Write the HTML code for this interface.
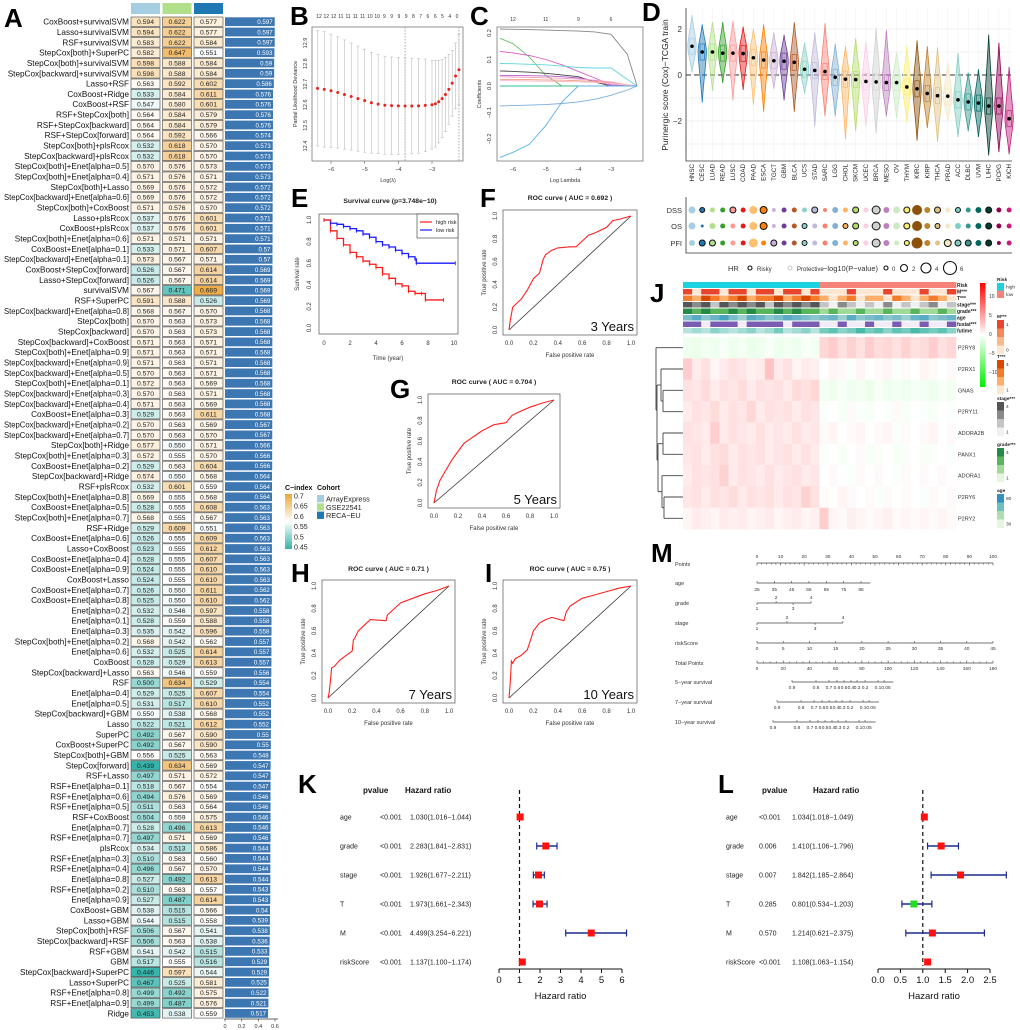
<!DOCTYPE html>
<html><head><meta charset="utf-8">
<style>
html,body{margin:0;padding:0;background:#fff;}
svg{display:block;font-family:"Liberation Sans",Arial,sans-serif;}
</style></head>
<body>
<svg id="fig" width="1020" height="1030" viewBox="0 0 1020 1030" xmlns="http://www.w3.org/2000/svg"></svg>
<script>
/* ================= DATA ================= */
// Panel A
const modelNames=["CoxBoost+survivalSVM","Lasso+survivalSVM","RSF+survivalSVM","StepCox[both]+SuperPC","StepCox[both]+survivalSVM","StepCox[backward]+survivalSVM","Lasso+RSF","CoxBoost+Ridge","CoxBoost+RSF","RSF+StepCox[both]","RSF+StepCox[backward]","RSF+StepCox[forward]","StepCox[both]+plsRcox","StepCox[backward]+plsRcox","StepCox[both]+Enet[alpha=0.5]","StepCox[both]+Enet[alpha=0.4]","StepCox[both]+Lasso","StepCox[backward]+Enet[alpha=0.6]","StepCox[both]+CoxBoost","Lasso+plsRcox","CoxBoost+plsRcox","StepCox[both]+Enet[alpha=0.6]","CoxBoost+Enet[alpha=0.1]","StepCox[backward]+Enet[alpha=0.1]","CoxBoost+StepCox[forward]","Lasso+StepCox[forward]","survivalSVM","RSF+SuperPC","StepCox[backward]+Enet[alpha=0.8]","StepCox[both]","StepCox[backward]","StepCox[backward]+CoxBoost","StepCox[both]+Enet[alpha=0.9]","StepCox[backward]+Enet[alpha=0.9]","StepCox[backward]+Enet[alpha=0.5]","StepCox[both]+Enet[alpha=0.1]","StepCox[backward]+Enet[alpha=0.3]","StepCox[backward]+Enet[alpha=0.4]","CoxBoost+Enet[alpha=0.3]","StepCox[backward]+Enet[alpha=0.2]","StepCox[backward]+Enet[alpha=0.7]","StepCox[both]+Ridge","StepCox[both]+Enet[alpha=0.3]","CoxBoost+Enet[alpha=0.2]","StepCox[backward]+Ridge","RSF+plsRcox","StepCox[both]+Enet[alpha=0.8]","CoxBoost+Enet[alpha=0.5]","StepCox[both]+Enet[alpha=0.7]","RSF+Ridge","CoxBoost+Enet[alpha=0.6]","Lasso+CoxBoost","CoxBoost+Enet[alpha=0.4]","CoxBoost+Enet[alpha=0.9]","CoxBoost+Lasso","CoxBoost+Enet[alpha=0.7]","CoxBoost+Enet[alpha=0.8]","Enet[alpha=0.2]","Enet[alpha=0.1]","Enet[alpha=0.3]","StepCox[both]+Enet[alpha=0.2]","Enet[alpha=0.6]","CoxBoost","StepCox[backward]+Lasso","RSF","Enet[alpha=0.4]","Enet[alpha=0.5]","StepCox[backward]+GBM","Lasso","SuperPC","CoxBoost+SuperPC","StepCox[both]+GBM","StepCox[forward]","RSF+Lasso","RSF+Enet[alpha=0.1]","RSF+Enet[alpha=0.6]","RSF+Enet[alpha=0.5]","RSF+CoxBoost","Enet[alpha=0.7]","RSF+Enet[alpha=0.7]","plsRcox","RSF+Enet[alpha=0.3]","RSF+Enet[alpha=0.4]","Enet[alpha=0.8]","RSF+Enet[alpha=0.2]","Enet[alpha=0.9]","CoxBoost+GBM","Lasso+GBM","StepCox[both]+RSF","StepCox[backward]+RSF","RSF+GBM","GBM","StepCox[backward]+SuperPC","Lasso+SuperPC","RSF+Enet[alpha=0.8]","RSF+Enet[alpha=0.9]","Ridge"];
const cArrayExpress=[0.594,0.594,0.583,0.582,0.598,0.598,0.563,0.533,0.547,0.564,0.564,0.564,0.532,0.532,0.570,0.571,0.569,0.569,0.571,0.537,0.537,0.571,0.533,0.573,0.526,0.526,0.567,0.591,0.568,0.570,0.570,0.571,0.571,0.571,0.570,0.572,0.570,0.571,0.529,0.570,0.570,0.577,0.572,0.529,0.574,0.532,0.569,0.528,0.568,0.529,0.526,0.523,0.528,0.524,0.524,0.526,0.525,0.532,0.528,0.535,0.568,0.532,0.528,0.563,0.500,0.529,0.531,0.550,0.522,0.492,0.492,0.556,0.439,0.497,0.518,0.494,0.511,0.504,0.528,0.497,0.534,0.510,0.496,0.527,0.510,0.527,0.538,0.544,0.506,0.506,0.541,0.517,0.446,0.467,0.499,0.499,0.453];
const cGSE22541=[0.622,0.622,0.622,0.647,0.588,0.588,0.592,0.584,0.580,0.584,0.584,0.592,0.618,0.618,0.576,0.576,0.576,0.576,0.576,0.576,0.576,0.571,0.571,0.567,0.567,0.567,0.471,0.588,0.567,0.563,0.563,0.563,0.563,0.563,0.563,0.563,0.563,0.563,0.563,0.563,0.563,0.550,0.555,0.563,0.550,0.601,0.555,0.555,0.555,0.609,0.555,0.555,0.555,0.555,0.555,0.550,0.550,0.546,0.559,0.542,0.542,0.525,0.529,0.546,0.634,0.525,0.517,0.538,0.521,0.567,0.567,0.525,0.634,0.571,0.567,0.576,0.563,0.559,0.496,0.571,0.513,0.563,0.567,0.492,0.563,0.487,0.515,0.515,0.567,0.563,0.542,0.555,0.597,0.525,0.492,0.487,0.538];
const cRECAEU=[0.577,0.577,0.584,0.551,0.584,0.584,0.602,0.611,0.601,0.579,0.579,0.566,0.570,0.570,0.573,0.571,0.572,0.572,0.570,0.601,0.601,0.571,0.607,0.571,0.614,0.614,0.669,0.526,0.570,0.573,0.573,0.571,0.571,0.571,0.571,0.569,0.571,0.569,0.611,0.569,0.570,0.571,0.570,0.604,0.568,0.559,0.568,0.608,0.567,0.551,0.609,0.612,0.607,0.610,0.610,0.611,0.610,0.597,0.588,0.596,0.562,0.614,0.613,0.559,0.529,0.607,0.610,0.568,0.612,0.590,0.590,0.563,0.569,0.572,0.554,0.569,0.564,0.575,0.613,0.569,0.586,0.560,0.570,0.613,0.557,0.614,0.566,0.558,0.541,0.538,0.515,0.516,0.544,0.581,0.575,0.576,0.559];
const cMean=[0.597,0.597,0.597,0.593,0.59,0.59,0.586,0.576,0.576,0.576,0.576,0.574,0.573,0.573,0.573,0.573,0.572,0.572,0.572,0.571,0.571,0.571,0.57,0.57,0.569,0.569,0.569,0.569,0.568,0.568,0.568,0.568,0.568,0.568,0.568,0.568,0.568,0.568,0.568,0.567,0.567,0.566,0.566,0.566,0.564,0.564,0.564,0.563,0.563,0.563,0.563,0.563,0.563,0.563,0.563,0.562,0.562,0.558,0.558,0.558,0.557,0.557,0.557,0.556,0.554,0.554,0.552,0.552,0.552,0.55,0.55,0.548,0.547,0.547,0.547,0.546,0.546,0.546,0.546,0.546,0.544,0.544,0.544,0.544,0.543,0.543,0.54,0.539,0.538,0.536,0.533,0.529,0.529,0.525,0.522,0.521,0.517];
const barTicks=[0,0.2,0.4,0.6];
const cindexLegendTicks=[0.7,0.65,0.6,0.55,0.5,0.45];
const cohortNames=["ArrayExpress","GSE22541","RECA−EU"];

// Panel B
const bLogLambda=[-6.4,-6.2,-6.0,-5.8,-5.6,-5.4,-5.2,-5.0,-4.8,-4.6,-4.4,-4.2,-4.0,-3.8,-3.6,-3.4,-3.2,-3.0,-2.9,-2.8,-2.7,-2.6,-2.5,-2.4,-2.3,-2.2];
const bDeviance=[12.68,12.675,12.668,12.66,12.65,12.64,12.63,12.62,12.61,12.603,12.598,12.596,12.595,12.594,12.594,12.595,12.597,12.60,12.605,12.615,12.63,12.65,12.675,12.705,12.74,12.77];
const bSE=[0.28,0.28,0.275,0.27,0.265,0.26,0.255,0.25,0.245,0.24,0.238,0.236,0.235,0.234,0.232,0.23,0.225,0.215,0.21,0.2,0.19,0.18,0.17,0.16,0.16,0.17];
const bTopCounts=["12","12","12","11","11","11","11","10","10","9","9","9","9","8","7","6","6","5","4","0"];
const bXTicks=[-6,-5,-4,-3];
const bYTicks=[12.4,12.5,12.6,12.7,12.8,12.9];
const bVLines=[-3.8,-2.2];

// Panel C
const cLambda=[-6.4,-6.0,-5.5,-5.0,-4.5,-4.0,-3.5,-3.0,-2.5,-2.2];
const coefGray=[0.215,0.214,0.213,0.211,0.209,0.207,0.204,0.195,0.12,0];
const coefGreen=[0.18,0.16,0.11,0.04,0,0,0,0,0,0];
const coefMagenta=[0.13,0.125,0.115,0.1,0.08,0.055,0.03,0.005,0,0];
const coefCyan=[0.085,0.084,0.082,0.08,0.075,0.07,0.068,0.068,0.025,0];
const coefDark=[0.057,0.055,0.052,0.048,0.042,0.035,0.015,0,0,0];
const coefViolet=[0.04,0.04,0.039,0.038,0.035,0.03,0.02,0.002,0,0];
const coefPink=[0.035,0.034,0.033,0.031,0.029,0.026,0.022,0.015,0.004,0];
const coefSalmon=[0.025,0.025,0.024,0.023,0.022,0.02,0.017,0.012,0.004,0];
const coefRose=[0.02,0.02,0.019,0.018,0.017,0.016,0.014,0.01,0.003,0];
const coefTeal=[0,0,0,0,0,0,0,0,0,0];
const coefBlue=[-0.075,-0.074,-0.072,-0.07,-0.066,-0.06,-0.05,-0.035,-0.015,0];
const coefLightBlue=[-0.27,-0.25,-0.22,-0.15,-0.06,0,0,0,0,0];
const cTopCounts=[["12",-6],["11",-5],["9",-4],["6",-3]];
const cXTicks=[-6,-5,-4,-3];
const cYTicks=[0.2,0.1,0,-0.1,-0.2];

// Panel D
const cancerTypes=["HNSC","CESC","LUAD","READ","LUSC","COAD","PAAD","ESCA","TGCT","GBM","BLCA","UCS","STAD","SARC","LGG","CHOL","SKCM","UCEC","BRCA","MESO","OV","THYM","KIRC","KIRP","THCA","PRAD","ACC","DLBC","UVM","LIHC","PCPG","KICH"];
const scoreMedian=[1.25,1.0,1.0,0.95,0.95,0.93,0.75,0.65,0.62,0.6,0.55,0.25,0.2,0.15,-0.1,-0.18,-0.2,-0.28,-0.3,-0.33,-0.33,-0.52,-0.6,-0.8,-0.9,-0.92,-1.08,-1.17,-1.22,-1.35,-1.35,-1.9];
const scoreMin=[0.1,-1.2,-0.7,-0.35,-1.1,-0.65,-1.3,-1.6,-0.6,-1.1,-1.6,-0.8,-2.25,-1.8,-1.8,-2.8,-2.45,-2.25,-2.55,-1.8,-1.9,-2.05,-2.85,-2.3,-2.9,-2.0,-2.7,-2.45,-2.7,-3.5,-3.35,-3.45];
const scoreMax=[2.6,2.2,2.3,2.3,2.35,2.1,2.0,2.2,1.85,1.75,2.3,1.4,1.85,2.25,1.35,1.25,1.6,1.45,2.05,1.95,1.0,1.25,1.5,1.25,1.2,0.55,0.95,0.1,0.25,1.75,1.4,0.35];
const cancerColors=["#a6cee3","#1f78b4","#b2df8a","#33a02c","#fb9a99","#e31a1c","#fdbf6f","#ff7f00","#cab2d6","#6a3d9a","#b15928","#8dd3c7","#bebada","#fb8072","#80b1d3","#fdb462","#b3de69","#fccde5","#d0d0d0","#bc80bd","#ccebc5","#ffed6f","#8c510a","#bf812d","#dfc27d","#f6e8c3","#80cdc1","#35978f","#01665e","#003c30","#8e0152","#c51b7d"];
const dYTicks=[2,0,-2];
const endpoints=["DSS","OS","PFI"];
const dssSize=[3.5,2.5,2.5,2.5,3,2.5,4,3.5,2,2.5,2.5,2.5,3,2,3,2.5,3,2.5,4,3,3.5,3,5,3,3,2.5,2.5,2.5,3,3,2.5,2.5];
const dssRing=[0,1,0,0,1,0,0,1,0,0,0,0,1,0,0,0,1,0,1,0,0,1,0,0,1,0,1,0,0,1,0,0];
const osSize=[3.5,1.5,3,2.5,2.5,2.5,4,3.5,2,2.5,2.5,2.5,2.5,2.5,3,2.5,3,2.5,4,3,3.5,3,5,3,2.5,2.5,3,2.5,3,3,2.5,2.5];
const osRing=[0,0,0,0,0,0,0,1,0,0,0,1,0,0,0,1,1,0,1,0,0,1,0,0,1,0,0,0,0,1,0,0];
const pfiSize=[3,3,3,2.5,2.5,2.5,4.5,2.5,3,2.5,2.5,2.5,2.5,2.5,3,2.5,2.5,2.5,4,3,2.5,2.5,5.5,3,2.5,3.5,3,3,3,3,2,2.5];
const pfiRing=[0,1,1,0,0,0,0,0,1,0,0,1,0,0,0,0,1,0,1,0,0,1,0,0,0,1,1,1,0,1,0,0];

// Panel E
const highTime=[0,0.5,1,1.5,2,2.5,3,3.5,4,4.5,5,5.5,6,6.5,7,7.5,7.8,9.2];
const highSurv=[1,0.9,0.83,0.77,0.7,0.66,0.62,0.59,0.56,0.5,0.46,0.41,0.39,0.34,0.32,0.32,0.26,0.26];
const lowTime=[0,0.5,1,1.5,2,2.5,3,3.5,4,4.5,5,5.5,6,6.5,7,7.1,10.1];
const lowSurv=[1,0.97,0.96,0.94,0.92,0.9,0.87,0.84,0.8,0.77,0.75,0.72,0.69,0.66,0.64,0.6,0.6];
const eXTicks=[0,2,4,6,8,10];
const eYTicks=[0,0.2,0.4,0.6,0.8,1.0];

// ROC panels
const roc3Fpr=[0,0.01,0.03,0.05,0.1,0.15,0.2,0.25,0.28,0.3,0.35,0.4,0.5,0.55,0.6,0.65,0.7,0.8,0.85,0.9,1];
const roc3Tpr=[0,0.08,0.2,0.22,0.27,0.35,0.45,0.5,0.62,0.66,0.7,0.72,0.73,0.73,0.78,0.83,0.85,0.9,0.96,0.97,1];
const roc5Fpr=[0,0.02,0.05,0.1,0.15,0.2,0.25,0.3,0.35,0.4,0.45,0.5,0.6,0.65,0.7,0.8,0.9,1];
const roc5Tpr=[0,0.12,0.22,0.32,0.42,0.5,0.58,0.62,0.66,0.7,0.73,0.76,0.78,0.85,0.88,0.93,0.97,1];
const roc7Fpr=[0,0.01,0.02,0.03,0.05,0.1,0.15,0.2,0.21,0.22,0.25,0.3,0.35,0.48,0.49,0.55,0.6,0.7,0.8,0.9,1];
const roc7Tpr=[0,0.05,0.15,0.27,0.28,0.34,0.38,0.42,0.52,0.53,0.6,0.65,0.7,0.69,0.74,0.8,0.85,0.89,0.93,0.96,1];
const roc10Fpr=[0,0.01,0.02,0.03,0.05,0.1,0.15,0.18,0.2,0.25,0.3,0.35,0.45,0.47,0.5,0.6,0.7,0.8,0.9,1];
const roc10Tpr=[0,0.13,0.33,0.31,0.35,0.38,0.43,0.53,0.6,0.67,0.7,0.72,0.69,0.77,0.82,0.89,0.92,0.95,0.98,1];
const rocAUC=["0.692","0.704","0.71","0.75"];
const rocYears=["3 Years","5 Years","7 Years","10 Years"];
const rocTicks=[0,0.2,0.4,0.6,0.8,1.0];

// Panel J
const geneNames=["P2RY8","P2RX1","GNAS","P2RY11","ADORA2B","PANX1","ADORA1","P2RY6","P2RY2"];
const exprP2RY8=[-.2,-.25,-.15,-.2,-.1,-.2,-.15,-.25,-.2,-.1,-.2,-.15,-.2,-.1,-.15,.4,.5,.3,.45,.3,.5,.35,.4,.3,.45,.3,.35,.5,.3,.4];
const exprP2RX1=[.5,.2,.3,.1,.2,.3,.25,.15,.2,.6,.2,.3,.1,.2,.15,0,.1,.05,-.05,.1,0,.05,.1,-.05,.05,0,.1,.05,0,.05];
const exprGNAS=[.3,.25,.35,.2,.3,.25,.35,.2,.3,.25,.3,.2,.35,.3,.4,-.15,-.2,-.1,-.2,-.15,-.25,-.1,-.2,-.15,-.2,-.1,-.15,-.2,-.1,-.15];
const exprP2RY11=[.2,.3,.25,.35,.2,.3,.25,.4,.2,.3,.25,.3,.2,.3,.25,-.05,0,-.1,.05,-.05,-.1,0,-.05,.05,-.1,0,-.05,-.1,0,-.05];
const exprADORA2B=[.3,.25,.2,.5,.2,.3,.25,.2,.3,.2,.25,.2,.3,.2,.25,.05,.1,0,.05,.1,0,.05,.1,-.05,.05,0,.05,.1,0,.05];
const exprPANX1=[.25,.3,.2,.3,.35,.2,.3,.25,.3,.2,.25,.3,.2,.3,.2,-.05,0,-.1,0,.05,-.1,-.05,0,-.1,-.05,0,-.1,-.05,0,-.05];
const exprADORA1=[.2,.3,.25,.3,.45,.2,.3,.25,.2,.3,.2,.25,.3,.2,.25,0,.05,0,-.05,.05,0,.05,0,-.05,.05,0,.05,0,.05,0];
const exprP2RY6=[.25,.3,.2,.3,.25,.35,.2,.3,.25,.3,.2,.3,.25,.45,.3,.05,0,.1,.05,0,.05,-.05,.05,0,.05,0,-.05,.05,0,.05];
const exprP2RY2=[.1,.2,.15,.1,.2,.15,.2,.1,.15,.2,.1,.15,.2,.1,.15,.5,.1,.05,.15,.1,.05,.1,.15,.05,.1,.05,.1,.05,.1,.05];
const annotRisk=[1,1,1,1,1,1,1,1,1,1,1,1,1,1,1,0,0,0,0,0,0,0,0,0,0,0,0,0,0,0];
const annotM=[1,0,1,1,0,1,1,0,1,1,0,1,1,0,1,0,0,0,1,0,0,0,1,0,0,0,1,0,0,1];
const annotT=[3,2,4,3,2,3,4,2,3,3,4,2,3,4,3,2,1,2,3,1,2,2,1,3,2,1,2,3,2,1];
const annotStage=[4,3,4,2,4,3,4,3,4,2,4,3,4,3,4,2,1,3,2,1,2,1,3,1,2,1,2,3,1,2];
const annotGrade=[4,3,4,3,3,4,3,4,3,3,4,3,4,3,3,2,3,2,2,3,2,2,3,2,2,3,2,2,3,2];
const annotAge=[60,70,55,65,75,60,50,70,65,55,60,70,65,60,55,60,65,50,70,55,60,65,55,60,50,65,70,55,60,65];
const annotFustat=[1,1,0,1,1,1,0,1,1,1,1,0,1,1,1,0,0,1,0,0,1,0,0,1,0,0,1,0,0,1];
const annotFutime=[2,3,2,4,3,2,3,4,2,3,5,2,3,4,2,5,6,4,5,7,5,6,4,6,5,7,6,5,6,4];
const annotNames=["Risk","M***","T***","stage***","grade***","age","fustat***","futime"];
const heatLegendTicks=[10,5,0,-5,-10];

// Panel M (nomogram)
const pointsLabels=[0,10,20,30,40,50,60,70,80,90,100];
const ageLabels=["25","35","45","55","65","75","85"];
const agePts=[0,7.35,14.7,22.0,29.4,36.7,44.1];
const gradeLabels=["1","2","3","4"];
const gradePts=[0,8.1,15.3,22.9];
const stageLabels=["1","2","3","4"];
const stagePts=[0,12.7,24.6,36.4];
const riskLabels=[0,5,10,15,20,25,30,35,40,45];
const totalLabels=[0,20,40,60,80,100,120,140,160,180];
const survLabels=["0.9","0.8","0.7","0.6","0.5","0.4","0.3","0.2","0.1","0.05"];
const surv5Total=[26.7,45,54.9,61,66.4,71.7,76.3,82.4,92.3,96.9];
const surv7Total=[15.3,33.6,43.5,49.6,55,60.3,64.9,71,80.9,85.5];
const surv10Total=[12.2,30.5,40.4,46.5,51.9,57.2,61.8,67.9,77.8,82.4];

// Panels K / L
const coxVars=["age","grade","stage","T","M","riskScore"];
const kPval=["<0.001","<0.001","<0.001","<0.001","<0.001","<0.001"];
const kHR=[1.030,2.283,1.926,1.973,4.499,1.137];
const kLow=[1.016,1.841,1.677,1.661,3.254,1.100];
const kHigh=[1.044,2.831,2.211,2.343,6.221,1.174];
const kTicks=[0,1,2,3,4,5,6];
const lPval=["<0.001","0.006","0.007","0.285","0.570","<0.001"];
const lHR=[1.034,1.410,1.842,0.801,1.214,1.108];
const lLow=[1.018,1.106,1.185,0.534,0.621,1.063];
const lHigh=[1.049,1.796,2.864,1.203,2.375,1.154];
const lTicks=[0,0.5,1,1.5,2,2.5];

/* ================= HELPERS ================= */
const NS='http://www.w3.org/2000/svg';
const svg=document.getElementById('fig');
function mk(tag,attrs,parent){const e=document.createElementNS(NS,tag);for(const k in attrs)e.setAttribute(k,attrs[k]);(parent||svg).appendChild(e);return e;}
function tx(x,y,s,size,opts,parent){const e=mk('text',Object.assign({x:x,y:y,'font-size':size,fill:'#111'},opts||{}),parent);e.textContent=s;return e;}
function lin(d0,d1,r0,r1){return v=>r0+(v-d0)/(d1-d0)*(r1-r0);}
function grp(){return mk('g',{});}
function fmt(v){return String(v);}

/* ================= PANEL LETTERS ================= */
const panelLetters=["A","B","C","D","E","F","G","H","I","J","K","L","M"];
const letterX=[4,290,470,642,291,480,390,291,485,650,298,718,651];
const letterY=[27,25,25,21,207,207,398,582,582,302,793,793,562];
panelLetters.forEach((L,i)=>{
  const t=tx(letterX[i],letterY[i],L,26,{'font-weight':'bold',fill:'#000'});
  
  
});

/* ================= PANEL A ================= */
(function(){
  const g=grp();
  
  
  const rowY=i=>21.7+i*10.33;
  const colX=[131,162.5,194];
  const cohortColors=["#a6cee3","#b2df8a","#1f78b4"];
  const series=[cArrayExpress,cGSE22541,cRECAEU];
  function cc(v){
    let t=v>=0.555?Math.min(1,(v-0.555)/0.115):Math.max(-1,(v-0.555)/0.11);
    const w=[255,255,255];
    const c=t>=0?[238,172,70]:[52,180,170];
    const a=Math.abs(t);
    return 'rgb('+w.map((x,k)=>Math.round(x+(c[k]-x)*a)).join(',')+')';
  }
  cohortColors.forEach((c,j)=>{
    const r=mk('rect',{x:colX[j],y:3,width:29,height:11,fill:c},g);
    
    
  });
  const xBar=lin(0,0.6,225,275);
  modelNames.forEach((nm,i)=>{
    const y=rowY(i);
    const t=tx(129,y+2.9,nm,8.2,{'text-anchor':'end',fill:'#111'},g);
    
    
    const L=t.getComputedTextLength();
    if(L>125){t.setAttribute('textLength',125);t.setAttribute('lengthAdjust','spacingAndGlyphs');}
    series.forEach((s,j)=>{
      const r=mk('rect',{x:colX[j],y:y-4.7,width:29,height:9.4,fill:cc(s[i]),stroke:'#444','stroke-width':0.6},g);
      
      
      const v=tx(colX[j]+14.5,y+2.4,s[i].toFixed(3),6.8,{'text-anchor':'middle',fill:'#222'},g);
      
      
    });
    const b=mk('rect',{x:225,y:y-4.4,width:xBar(cMean[i])-225,height:8.8,fill:'#3c77b1'},g);
    
    
    const bt=tx(xBar(cMean[i])-2,y+2.3,String(cMean[i]),6.2,{'text-anchor':'end',fill:'#fff'},g);
    
    
  });
  const ax=mk('line',{x1:224,x2:278,y1:1019,y2:1019,stroke:'#333','stroke-width':0.7},g);
  
  
  barTicks.forEach(v=>{
    const tk=mk('line',{x1:xBar(v),x2:xBar(v),y1:1019,y2:1021.5,stroke:'#333','stroke-width':0.6},g);
    
    
    const tl=tx(xBar(v),1028,fmt(v),5.5,{'text-anchor':'middle',fill:'#333'},g);
    
    
  });
  const defs=mk('defs',{},g);
  const lg=mk('linearGradient',{id:'cgrad',x1:0,y1:0,x2:0,y2:1},defs);
  mk('stop',{offset:'0%','stop-color':'#e9a83b'},lg);
  mk('stop',{offset:'50%','stop-color':'#ffffff'},lg);
  mk('stop',{offset:'100%','stop-color':'#35b3a9'},lg);
  const lt=tx(285,490,'C−index',7,{'font-weight':'bold'},g);
  
  
  const gb=mk('rect',{x:285,y:494,width:7,height:55,fill:'url(#cgrad)'},g);
  
  
  const yL=lin(0.7,0.45,496,547);
  cindexLegendTicks.forEach(v=>{
    const t=tx(294,yL(v)+2.5,String(v),7,{fill:'#222'},g);
    
    
  });
  const ct=tx(317,490,'Cohort',7,{'font-weight':'bold'},g);
  
  
  cohortNames.forEach((n,j)=>{
    const r=mk('rect',{x:317,y:495+j*8.3,width:7,height:7.3,fill:cohortColors[j]},g);
    
    
    const t=tx(326,501.5+j*8.3,n,7.3,{fill:'#222'},g);
    
    
  });
})();

/* ================= PANEL B ================= */
(function(){
  const g=grp();
  
  
  const X=lin(-6,-3,331,432), Y=lin(12.9,12.4,43,146);
  const fr=mk('rect',{x:312,y:27,width:151,height:134,fill:'none',stroke:'#666','stroke-width':0.7},g);
  
  
  bVLines.forEach(v=>{
    const l=mk('line',{x1:X(v),x2:X(v),y1:27,y2:161,stroke:'#888','stroke-width':0.7,'stroke-dasharray':'1.5,1.5'},g);
    
    
  });
  bLogLambda.forEach((lx,i)=>{
    const x=X(lx);
    const e=mk('line',{x1:x,x2:x,y1:Y(bDeviance[i]+bSE[i]),y2:Y(bDeviance[i]-bSE[i]),stroke:'#bbb','stroke-width':0.6},g);
    
    
    const c1=mk('line',{x1:x-1.5,x2:x+1.5,y1:Y(bDeviance[i]+bSE[i]),y2:Y(bDeviance[i]+bSE[i]),stroke:'#bbb','stroke-width':0.6},g);
    
    
    const c2=mk('line',{x1:x-1.5,x2:x+1.5,y1:Y(bDeviance[i]-bSE[i]),y2:Y(bDeviance[i]-bSE[i]),stroke:'#bbb','stroke-width':0.6},g);
    
    
    const p=mk('circle',{cx:x,cy:Y(bDeviance[i]),r:1.5,fill:'#e8221c'},g);
    
    
  });
  const xt=lin(0,bTopCounts.length-1,319,457);
  bTopCounts.forEach((s,i)=>{
    const t=tx(xt(i),18,s,5,{'text-anchor':'middle',fill:'#333'},g);
    
    
  });
  bXTicks.forEach(v=>{
    const t=tx(X(v),171,'−'+Math.abs(v),5.5,{'text-anchor':'middle',fill:'#333'},g);
    
    
    const k=mk('line',{x1:X(v),x2:X(v),y1:161,y2:164,stroke:'#666','stroke-width':0.6},g);
    
    
  });
  bYTicks.forEach(v=>{
    const t=tx(307,Y(v),v.toFixed(1),5.5,{'text-anchor':'middle',fill:'#333',transform:'rotate(-90 307 '+Y(v)+')'},g);
    
    
  });
  const xl=tx(388,182,'Log(λ)',5.5,{'text-anchor':'middle',fill:'#333'},g);
  
  
  const yl=tx(297,94,'Partial Likelihood Deviance',5.5,{'text-anchor':'middle',fill:'#333',transform:'rotate(-90 297 94)'},g);
  
  
})();

/* ================= PANEL C ================= */
(function(){
  const g=grp();
  
  
  const X=lin(-6,-3,513,611), Y=lin(0.2,-0.2,33,139);
  const fr=mk('rect',{x:497,y:27,width:146,height:134,fill:'none',stroke:'#666','stroke-width':0.7},g);
  
  
  const paths=[[coefGray,'#888'],[coefGreen,'#66c266'],[coefMagenta,'#d260c8'],[coefCyan,'#5fd6e0'],[coefDark,'#444'],[coefViolet,'#b35fd0'],[coefPink,'#f29bc0'],[coefSalmon,'#f2a08a'],[coefRose,'#f7b9c6'],[coefTeal,'#2fbf8f'],[coefBlue,'#7aaee0'],[coefLightBlue,'#5ab0e6']];
  paths.forEach(([arr,col])=>{
    const d=cLambda.map((lx,i)=>(i?'L':'M')+X(lx).toFixed(1)+','+Y(arr[i]).toFixed(1)).join(' ');
    const p=mk('path',{d:d,fill:'none',stroke:col,'stroke-width':0.9},g);
    
    
  });
  cTopCounts.forEach(([s,v])=>{
    const t=tx(X(v),21,s,5,{'text-anchor':'middle',fill:'#333'},g);
    
    
  });
  cXTicks.forEach(v=>{
    const t=tx(X(v),171,'−'+Math.abs(v),5.5,{'text-anchor':'middle',fill:'#333'},g);
    
    
  });
  cYTicks.forEach(v=>{
    const t=tx(491,Y(v),(v<0?'−':'')+Math.abs(v).toFixed(1),5.5,{'text-anchor':'middle',fill:'#333',transform:'rotate(-90 491 '+Y(v)+')'},g);
    
    
  });
  const xl=tx(565,182,'Log Lambda',5.5,{'text-anchor':'middle',fill:'#333'},g);
  
  
  const yl=tx(481,94,'Coefficients',5.5,{'text-anchor':'middle',fill:'#333',transform:'rotate(-90 481 94)'},g);
  
  
})();

/* ================= PANEL D ================= */
(function(){
  const g=grp();
  
  
  const X=i=>692+i*10.23, Y=lin(2,-2,29,121);
  [-3,-2,-1,0,1,2].forEach(v=>{
    const gl=mk('line',{x1:686,x2:1012,y1:Y(v),y2:Y(v),stroke:'#eee','stroke-width':0.7},g);
    
    
  });
  cancerTypes.forEach((c,i)=>{
    const gv=mk('line',{x1:X(i),x2:X(i),y1:8,y2:161,stroke:'#f2f2f2','stroke-width':0.6},g);
    
    
  });
  const zl=mk('line',{x1:686,x2:1012,y1:Y(0),y2:Y(0),stroke:'#333','stroke-width':1,'stroke-dasharray':'5,3'},g);
  
  
  cancerTypes.forEach((c,i)=>{
    const x=X(i), yt=Y(scoreMax[i]), yb=Y(scoreMin[i]), ym=Y(scoreMedian[i]), w=4.2;
    const yu=(yt+ym)/2, yd=(ym+yb)/2;
    const d=`M${x},${yt} C${x+w*0.4},${yu} ${x+w},${ym-8} ${x+w},${ym} C${x+w},${ym+8} ${x+w*0.4},${yd} ${x},${yb} C${x-w*0.4},${yd} ${x-w},${ym+8} ${x-w},${ym} C${x-w},${ym-8} ${x-w*0.4},${yu} ${x},${yt} Z`;
    const v=mk('path',{d:d,fill:cancerColors[i],'fill-opacity':0.45,stroke:cancerColors[i],'stroke-width':0.8},g);
    
    
    const bx=mk('rect',{x:x-2.2,y:Y(scoreMedian[i]+0.35),width:4.4,height:Y(scoreMedian[i]-0.35)-Y(scoreMedian[i]+0.35),fill:'none',stroke:cancerColors[i],'stroke-width':0.7},g);
    
    
    const m=mk('circle',{cx:x,cy:ym,r:1.8,fill:'#000'},g);
    
    
    const lb=tx(x+2,164,c,6.2,{'text-anchor':'end',fill:'#222',transform:`rotate(-90 ${x+2} 164)`},g);
    
    
  });
  const ax=mk('path',{d:'M686,8 L686,161 L1012,161',fill:'none',stroke:'#333','stroke-width':0.8},g);
  
  
  dYTicks.forEach(v=>{
    const t=tx(682,Y(v)+3,(v<0?'−':'')+Math.abs(v),8,{'text-anchor':'end',fill:'#333'},g);
    
    
  });
  const yl=tx(668,85,'Purinergic score (Cox)−TCGA train',8.5,{'text-anchor':'middle',fill:'#222',transform:'rotate(-90 668 85)'},g);
  
  
  const fr=mk('path',{d:'M686,197 L686,253 L1012,253',fill:'none',stroke:'#333','stroke-width':0.8},g);
  
  
  const rowsY=[210,226,243];
  const sizes=[dssSize,osSize,pfiSize], rings=[dssRing,osRing,pfiRing];
  endpoints.forEach((ep,r)=>{
    const t=tx(682,rowsY[r]+3,ep,7.5,{'text-anchor':'end',fill:'#333'},g);
    
    
    cancerTypes.forEach((c,i)=>{
      const b=mk('circle',{cx:X(i),cy:rowsY[r],r:sizes[r][i],fill:cancerColors[i],stroke:rings[r][i]?'#111':'none','stroke-width':1},g);
      
      
    });
  });
  const lg=[['HR',728],['Risky',757],['Protective',797],['−log10(P−value)',823],['0',892],['2',912],['4',935],['6',960]];
  lg.forEach(([s,x])=>{
    const t=tx(x,271,s,s==='HR'||s.startsWith('−')?7.5:6,{fill:'#333'},g);
    
    
  });
  [[750,2,'#111'],[790,2,'#ccc'],[886,2,'#111'],[904,3.5,'#111'],[926,5,'#111'],[950,6.5,'#111']].forEach(([x,r,s])=>{
    const c=mk('circle',{cx:x,cy:268,r:r,fill:'none',stroke:s,'stroke-width':1.1},g);
    
    
  });
})();

/* ================= PANEL E ================= */
(function(){
  const g=grp();
  
  
  const X=lin(0,10,324,454), Y=lin(1,0,220,328);
  const fr=mk('rect',{x:319,y:214,width:139,height:120,fill:'none',stroke:'#555','stroke-width':0.7},g);
  
  
  function step(t,s){let d='M'+X(t[0])+','+Y(s[0]);for(let i=1;i<t.length;i++){d+=' L'+X(t[i])+','+Y(s[i-1])+' L'+X(t[i])+','+Y(s[i]);}return d;}
  const lo=mk('path',{d:step(lowTime,lowSurv),fill:'none',stroke:'#1a1aff','stroke-width':1.3},g);
  
  
  const hi=mk('path',{d:step(highTime,highSurv),fill:'none',stroke:'#ff1a1a','stroke-width':1.3},g);
  
  
  lowTime.forEach((t,i)=>{
    const k=mk('line',{x1:X(t),x2:X(t),y1:Y(lowSurv[i])-2,y2:Y(lowSurv[i])+2,stroke:'#1a1aff','stroke-width':0.8},g);
    
    
  });
  highTime.forEach((t,i)=>{
    const k=mk('line',{x1:X(t),x2:X(t),y1:Y(highSurv[i])-2,y2:Y(highSurv[i])+2,stroke:'#ff1a1a','stroke-width':0.8},g);
    
    
  });
  const title=tx(390,203,'Survival curve (p=3.748e−10)',6.8,{'text-anchor':'middle','font-weight':'bold',fill:'#222'},g);
  
  
  eXTicks.forEach(v=>{
    const t=tx(X(v),345,String(v),6,{'text-anchor':'middle',fill:'#333'},g);
    
    
  });
  eYTicks.forEach(v=>{
    const t=tx(311,Y(v),v.toFixed(1),6,{'text-anchor':'middle',fill:'#333',transform:`rotate(-90 311 ${Y(v)})`},g);
    
    
  });
  const xl=tx(388,360,'Time (year)',6,{'text-anchor':'middle',fill:'#333'},g);
  
  
  const yl=tx(299,274,'Survival rate',6,{'text-anchor':'middle',fill:'#333',transform:'rotate(-90 299 274)'},g);
  
  
  const lb=mk('rect',{x:417,y:214,width:41,height:24,fill:'#fff',stroke:'#333','stroke-width':0.6},g);
  
  
  [['high risk','#ff1a1a',224],['low risk','#1a1aff',232]].forEach(([s,c,y])=>{
    const l=mk('line',{x1:420,x2:432,y1:y-2,y2:y-2,stroke:c,'stroke-width':1.2},g);
    
    
    const t=tx(436,y,s,5.5,{fill:'#222'},g);
    
    
  });
})();

/* ================= ROC PANELS F G H I ================= */
function rocPanel(fpr,tpr,auc,yrs,fx0,fx1,fy0,fy1,titleY,name){
  const g=grp();
  
  
  const X=lin(0,1,fx0+6,fx1-6), Y=lin(1,0,fy0+6,fy1-5);
  const fr=mk('rect',{x:fx0,y:fy0,width:fx1-fx0,height:fy1-fy0,fill:'none',stroke:'#555','stroke-width':0.7},g);
  
  
  const dg=mk('line',{x1:X(0),y1:Y(0),x2:X(1),y2:Y(1),stroke:'#333','stroke-width':0.8},g);
  
  
  const d=fpr.map((f,i)=>(i?'L':'M')+X(f).toFixed(1)+','+Y(tpr[i]).toFixed(1)).join(' ');
  const c=mk('path',{d:d,fill:'none',stroke:'#ff2020','stroke-width':1.1},g);
  
  
  const cx=(fx0+fx1)/2;
  const t=tx(cx,titleY,'ROC curve ( AUC =  '+auc+' )',6.8,{'text-anchor':'middle','font-weight':'bold',fill:'#222'},g);
  
  
  rocTicks.forEach(v=>{
    const a=tx(X(v),fy1+10,v.toFixed(1),6,{'text-anchor':'middle',fill:'#333'},g);
    
    
    const b=tx(fx0-6,Y(v),v.toFixed(1),6,{'text-anchor':'middle',fill:'#333',transform:`rotate(-90 ${fx0-6} ${Y(v)})`},g);
    
    
  });
  const xl=tx(cx,fy1+22,'False positive rate',6,{'text-anchor':'middle',fill:'#333'},g);
  
  
  const ym=(fy0+fy1)/2;
  const yl=tx(fx0-17,ym,'True positive rate',6,{'text-anchor':'middle',fill:'#333',transform:`rotate(-90 ${fx0-17} ${ym})`},g);
  
  
  const yr=tx(fx1-3,fy1-4,yrs,13,{'text-anchor':'end',fill:'#111'},g);
  
  
}
rocPanel(roc3Fpr,roc3Tpr,rocAUC[0],rocYears[0],503,637,210,335,200,'panel-f-roc-3-years');
rocPanel(roc5Fpr,roc5Tpr,rocAUC[1],rocYears[1],428,560,394,508,384,'panel-g-roc-5-years');
rocPanel(roc7Fpr,roc7Tpr,rocAUC[2],rocYears[2],322,455,580,703,571,'panel-h-roc-7-years');
rocPanel(roc10Fpr,roc10Tpr,rocAUC[3],rocYears[3],503,637,580,703,571,'panel-i-roc-10-years');

/* ================= PANEL J ================= */
(function(){
  const g=grp();
  
  
  const x0=683,x1=956,nC=annotRisk.length,cw=(x1-x0)/nC;
  const tracks=[
    [annotRisk,v=>v?'#1ad3df':'#f6837a',282,6],
    [annotM,v=>v?'#e8452e':'#fde6d2',289,5.5],
    [annotT,v=>['#fde6cf','#fdae6b','#f47b2a','#d94801'][v-1],295.5,5.5],
    [annotStage,v=>['#f0f0f0','#c4c4c4','#8a8a8a','#555'][v-1],302,5.5],
    [annotGrade,v=>['#e5f5e0','#a1d99b','#5ab45c','#238b45'][v-1],308.5,5.5],
    [annotAge,v=>{const t=(v-30)/50;return `rgb(${Math.round(224-170*t)},${Math.round(243-90*t)},${Math.round(219-30*t)})`},315,5.5],
    [annotFustat,v=>v?'#7b5cb3':'#f1ecf7',321.5,5.5],
    [annotFutime,v=>{const t=v/7;return `rgb(${Math.round(225-150*t)},${Math.round(245-60*t)},${Math.round(240-70*t)})`},328,5.5]
  ];
  tracks.forEach(([arr,fn,y,h],k)=>{
    arr.forEach((v,i)=>{
      const r=mk('rect',{x:x0+i*cw,y:y,width:cw+0.3,height:h,fill:fn(v)},g);
      
      
    });
    const t=tx(957,y+h-0.8,annotNames[k],5,{'font-weight':'bold',fill:'#222'},g);
    
    
  });
  const expr=[exprP2RY8,exprP2RX1,exprGNAS,exprP2RY11,exprADORA2B,exprPANX1,exprADORA1,exprP2RY6,exprP2RY2];
  const rh=(529-337)/9;
  function hc(v){const a=Math.min(1,Math.abs(v));return v>=0?`rgb(255,${Math.round(255-100*a)},${Math.round(255-100*a)})`:`rgb(${Math.round(255-80*a)},255,${Math.round(255-80*a)})`;}
  expr.forEach((row,gi)=>{
    row.forEach((v,i)=>{
      const r=mk('rect',{x:x0+i*cw,y:337+gi*rh,width:cw+0.3,height:rh+0.3,fill:hc(v)},g);
      
      
    });
    const t=tx(958,337+gi*rh+rh/2+2,geneNames[gi],5.5,{fill:'#333'},g);
    
    
  });
  const cy=gi=>337+gi*rh+rh/2;
  const dd=[
    [683,cy(0),656,cy(0)],[683,cy(1),661,cy(1)],[683,cy(2),663,cy(2)],[683,cy(3),663,cy(3)],[663,cy(2),663,cy(3)],[661,cy(1),661,(cy(2)+cy(3))/2],[661,(cy(2)+cy(3))/2,663,(cy(2)+cy(3))/2],
    [683,cy(4),663,cy(4)],[683,cy(5),663,cy(5)],[663,cy(4),663,cy(5)],[683,cy(6),662,cy(6)],[683,cy(7),664,cy(7)],[683,cy(8),664,cy(8)],[664,cy(7),664,cy(8)],[662,cy(6),662,(cy(7)+cy(8))/2],[662,(cy(7)+cy(8))/2,664,(cy(7)+cy(8))/2],
    [658,(cy(4)+cy(5))/2,658,(cy(6)+(cy(7)+cy(8))/2)/2],[658,(cy(4)+cy(5))/2,663,(cy(4)+cy(5))/2],[658,(cy(6)+(cy(7)+cy(8))/2)/2,662,(cy(6)+(cy(7)+cy(8))/2)/2],
    [657,(cy(1)+(cy(2)+cy(3))/2)/2,657,460],[657,(cy(1)+(cy(2)+cy(3))/2)/2,661,(cy(1)+(cy(2)+cy(3))/2)/2],[657,460,658,460],
    [656,cy(0),656,410],[656,410,657,410]
  ];
  dd.forEach(([a,b,c,d])=>{
    const l=mk('line',{x1:a,y1:b,x2:c,y2:d,stroke:'#444','stroke-width':0.9},g);
    
    
  });
  const defs=mk('defs',{},g);
  const lg=mk('linearGradient',{id:'hgrad',x1:0,y1:0,x2:0,y2:1},defs);
  mk('stop',{offset:'0%','stop-color':'#ff0000'},lg);
  mk('stop',{offset:'50%','stop-color':'#ffffff'},lg);
  mk('stop',{offset:'100%','stop-color':'#00ee00'},lg);
  const gb=mk('rect',{x:980,y:283,width:5.5,height:104,fill:'url(#hgrad)'},g);
  
  
  const hy=lin(10,-10,296,372);
  heatLegendTicks.forEach(v=>{
    const t=tx(989,hy(v)+2,(v<0?'−':'')+Math.abs(v),5,{fill:'#333'},g);
    
    
  });
  const legs=[
    ['Risk',281,['#1ad3df','#f6837a'],['high','low']],
    ['M***',318,['#e8452e','#f5875a','#fbb98a','#fde6d2'],['1','','','0']],
    ['T***',358,['#d94801','#f47b2a','#fdae6b','#fde6cf'],['4','','','1']],
    ['stage***',400,['#555','#8a8a8a','#c4c4c4','#f0f0f0'],['4','','','1']],
    ['grade***',446,['#238b45','#5ab45c','#a1d99b','#e5f5e0'],['4','','','1']],
    ['age',492,['#3590c0','#6cc0c0','#b0dcb0','#e6f5df'],['80','','','30']]
  ];
  legs.forEach(([ttl,y,cols,labs])=>{
    const t=tx(997,y,ttl,4.8,{'font-weight':'bold',fill:'#222'},g);
    
    
    const h=cols.length===2?7.5:8.5;
    cols.forEach((c,k)=>{
      const r=mk('rect',{x:997,y:y+2+k*h,width:7,height:h,fill:c},g);
      
      
      if(labs[k]){
        const l=tx(1006,y+2+k*h+h/2+1.8,labs[k],4.8,{fill:'#333'},g);
        
        
      }
    });
  });
})();

/* ================= PANEL M ================= */
(function(){
  const g=grp();
  
  
  const P=lin(0,100,757,993), T=lin(0,180,757,993);
  function axisLine(x1,x2,y,name){
    const l=mk('line',{x1:x1,x2:x2,y1:y,y2:y,stroke:'#444','stroke-width':0.7},g);
    
    
  }
  function tick(x,y,up,len){
    const k=mk('line',{x1:x,x2:x,y1:y,y2:up?y-len:y+len,stroke:'#444','stroke-width':0.6},g);
    
    
  }
  function lab(x,y,s){
    const t=tx(x,y,s,4.8,{'text-anchor':'middle',fill:'#333'},g);
    
    
  }
  const rowNames=[['Points',566],['age',585],['grade',605],['stage',625],['riskScore',645],['Total Points',665],['5−year survival',684],['7−year survival',704],['10−year survival',724]];
  rowNames.forEach(([s,y])=>{
    const t=tx(675,y,s,5.5,{fill:'#333'},g);
    
    
  });
  axisLine(P(0),P(100),563,'points-scale');
  for(let v=0;v<=100;v+=2)tick(P(v),563,false,v%10===0?2.5:1.5);
  pointsLabels.forEach(v=>lab(P(v),558,String(v)));
  axisLine(P(0),P(48),583,'age-scale');
  agePts.forEach((p,i)=>{tick(P(p),583,true,2);lab(P(p),591,ageLabels[i]);});
  axisLine(P(0),P(gradePts[3]),603,'grade-scale');
  gradePts.forEach((p,i)=>{tick(P(p),603,i%2===1,2);lab(P(p),i%2===1?599:610,gradeLabels[i]);});
  axisLine(P(0),P(stagePts[3]),623,'stage-scale');
  stagePts.forEach((p,i)=>{tick(P(p),623,i%2===1,2);lab(P(p),i%2===1?619:630,stageLabels[i]);});
  axisLine(P(0),P(100),643,'riskscore-scale');
  riskLabels.forEach(v=>{tick(P(v/45*100),643,true,2);lab(P(v/45*100),650,String(v));});
  axisLine(T(0),T(180),663,'total-points-scale');
  for(let v=0;v<=180;v+=5)tick(T(v),663,true,v%20===0?2.5:1.5);
  totalLabels.forEach(v=>lab(T(v),670,String(v)));
  [[surv5Total,682,'five-year-survival-scale',104],[surv7Total,702,'seven-year-survival-scale',93],[surv10Total,722,'ten-year-survival-scale',90.5]].forEach(([arr,y,nm,end])=>{
    axisLine(T(arr[0]),T(end),y,nm);
    arr.forEach((p,i)=>{tick(T(p),y,true,2);lab(T(p)+(i===9?2:0),y+7,survLabels[i]);});
  });
})();

/* ================= PANELS K / L ================= */
function forest(name,vars,pv,hr,lo,hi,ticks,xFn,nameX,pX,hrX,dashV,hdrPX,hdrHX,intTicks){
  const g=grp();
  
  
  const rows=[817,846,875,904,933,962];
  const h1=tx(hdrPX,793,'pvalue',8,{'font-weight':'bold',fill:'#111'},g);
  
  
  const h2=tx(hdrHX,793,'Hazard ratio',8,{'font-weight':'bold',fill:'#111'},g);
  
  
  const dl=mk('line',{x1:xFn(dashV),x2:xFn(dashV),y1:790,y2:966,stroke:'#111','stroke-width':1.2,'stroke-dasharray':'4,3'},g);
  
  
  vars.forEach((v,i)=>{
    const y=rows[i];
    const a=tx(nameX,y+2.5,v,7,{fill:'#222'},g);
    
    
    const b=tx(pX,y+2.5,pv[i],7,{fill:'#222'},g);
    
    
    const c=tx(hrX,y+2.5,hr[i].toFixed(3)+'('+lo[i].toFixed(3)+'−'+hi[i].toFixed(3)+')',7,{fill:'#222'},g);
    
    
    const e=mk('line',{x1:xFn(lo[i]),x2:xFn(hi[i]),y1:y,y2:y,stroke:'#1c2a94','stroke-width':1.4},g);
    
    
    [lo[i],hi[i]].forEach(z=>{
      const cp=mk('line',{x1:xFn(z),x2:xFn(z),y1:y-3.5,y2:y+3.5,stroke:'#1c2a94','stroke-width':1.2},g);
      
      
    });
    const s=mk('rect',{x:xFn(hr[i])-3.5,y:y-3.5,width:7,height:7,fill:hr[i]<1?'#22dd22':'#ff1010'},g);
    
    
  });
  const ax=mk('line',{x1:xFn(ticks[0]),x2:xFn(ticks[ticks.length-1]),y1:969,y2:969,stroke:'#111','stroke-width':1},g);
  
  
  ticks.forEach(v=>{
    const k=mk('line',{x1:xFn(v),x2:xFn(v),y1:969,y2:973,stroke:'#111','stroke-width':1},g);
    
    
    const t=tx(xFn(v),983,intTicks?String(v):v.toFixed(1),9.5,{'text-anchor':'middle',fill:'#111'},g);
    
    
  });
  const xm=(xFn(ticks[0])+xFn(ticks[ticks.length-1]))/2;
  const xl=tx(xm,999,'Hazard ratio',9.5,{'text-anchor':'middle',fill:'#111'},g);
  
  
}
forest('panel-k-univariate-cox',coxVars,kPval,kHR,kLow,kHigh,kTicks,lin(0,6,499,622),340,380,410,1,363,405,true);
forest('panel-l-multivariate-cox',coxVars,lPval,lHR,lLow,lHigh,lTicks,lin(0,2.5,878,990),726,759,792,1,762,813,false);
</script>
</body></html>
